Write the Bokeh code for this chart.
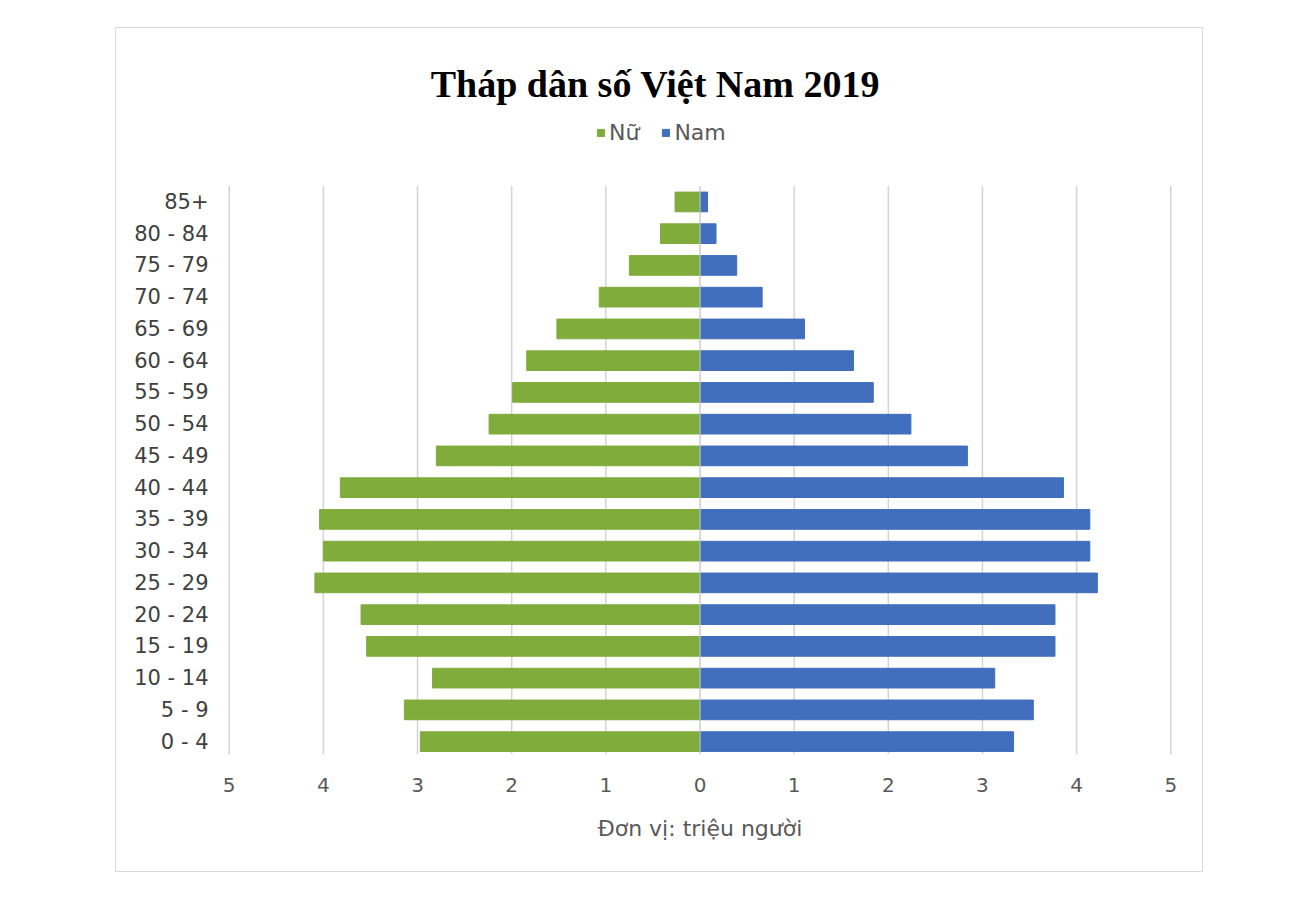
import numpy as np
from bokeh.plotting import figure
from bokeh.models import (ColumnDataSource, Range1d, FixedTicker, CustomJSTickFormatter,
                          Legend, LegendItem, Label, Spacer)
from bokeh.layouts import column, row
from bokeh.embed import file_html
from bokeh.resources import INLINE

# nhóm tuổi, từ dưới lên trên
ages = ["0 - 4", "5 - 9", "10 - 14", "15 - 19", "20 - 24", "25 - 29", "30 - 34",
        "35 - 39", "40 - 44", "45 - 49", "50 - 54", "55 - 59", "60 - 64",
        "65 - 69", "70 - 74", "75 - 79", "80 - 84", "85+"]
# triệu người
nu = [2.97, 3.14, 2.84, 3.54, 3.60, 4.09, 4.00, 4.04, 3.82, 2.80, 2.24, 1.99,
      1.84, 1.52, 1.07, 0.75, 0.42, 0.265]
nam = [3.33, 3.54, 3.13, 3.77, 3.77, 4.22, 4.14, 4.14, 3.86, 2.84, 2.24, 1.84,
       1.63, 1.11, 0.66, 0.39, 0.17, 0.08]
ticks = list(range(-5, 6))

green = "#80AC3C"
blue = "#416EBD"
grid_col = "#D4D4D4"
sans = "DejaVu Sans"

W, H = 1088, 845
ml, mr, mb = 108, 29, 116
frame_h = H - 2 - mb
row_px = 31.66                  # khoảng cách giữa các hàng
y_top = -0.5 + frame_h / row_px  # để chừa chỗ cho tiêu đề, chú giải
xlo, xhi = -5.05, 5.05
px_per_x = (W - 2 - ml - mr) / (xhi - xlo)

idx = list(range(len(ages)))
src = ColumnDataSource(data=dict(y=idx, age=ages, nu_left=[-v for v in nu],
                                 nam=nam, zero=[0] * len(ages)))

p = figure(width=W, height=H, x_range=Range1d(xlo, xhi), y_range=Range1d(-0.5, y_top),
           output_backend="svg", title=None, toolbar_location=None,
           min_border_left=ml, min_border_right=mr, min_border_top=0,
           min_border_bottom=mb)
p.styles = {"border": "1px solid #D9D9D9"}

# lưới dọc
p.segment(x0=ticks, x1=ticks, y0=-0.4, y1=len(ages) - 0.5,
          line_color=grid_col, line_width=1.5)

r_nu = p.hbar(y="y", left="nu_left", right="zero", height=0.62, color=green, source=src)
r_nam = p.hbar(y="y", left="zero", right="nam", height=0.62, color=blue, source=src)
p.segment(x0=[0], x1=[0], y0=-0.4, y1=len(ages) - 0.5, line_color=grid_col, line_width=1)

def px_y(abs_y):
    # vị trí theo pixel của trang (từ trên xuống) -> toạ độ dữ liệu
    return -0.5 + (28 + frame_h - abs_y) / row_px

def px_x(abs_x):
    return xlo + (abs_x - (116 + ml)) / px_per_x

p.add_layout(Label(x=px_x(654), y=px_y(83), text="Tháp dân số Việt Nam 2019",
                   text_font="Liberation Serif", text_font_size="38px",
                   text_font_style="bold", text_color="#000000",
                   text_align="center", text_baseline="middle"))

legend = Legend(items=[LegendItem(label="Nữ", renderers=[r_nu]),
                       LegendItem(label="Nam", renderers=[r_nam])],
                orientation="horizontal", location=(372, 612),
                glyph_width=9, glyph_height=9, label_standoff=4, spacing=22,
                padding=0, margin=0, border_line_color=None,
                background_fill_alpha=0, label_text_font=sans,
                label_text_font_size="22px", label_text_color="#595959")
p.add_layout(legend)

p.outline_line_color = None
p.grid.grid_line_color = None

p.xaxis.ticker = FixedTicker(ticks=ticks)
p.xaxis.formatter = CustomJSTickFormatter(code="return Math.abs(tick).toString()")
p.xaxis.axis_label = "Đơn vị: triệu người"
p.xaxis.axis_label_text_font = sans
p.xaxis.axis_label_text_font_style = "normal"
p.xaxis.axis_label_text_font_size = "22px"
p.xaxis.axis_label_text_color = "#595959"
p.xaxis.axis_label_standoff = 21
p.xaxis.major_label_text_font = sans
p.xaxis.major_label_text_font_size = "20px"
p.xaxis.major_label_text_color = "#595959"
p.xaxis.major_label_standoff = 14

p.yaxis.ticker = FixedTicker(ticks=idx)
p.yaxis.formatter = CustomJSTickFormatter(args=dict(labels=ages),
                                          code="return labels[Math.round(tick)]")
p.yaxis.major_label_text_font = sans
p.yaxis.major_label_text_font_size = "21px"
p.yaxis.major_label_text_color = "#404040"
p.yaxis.major_label_standoff = 10

for ax in (p.xaxis, p.yaxis):
    ax.axis_line_color = None
    ax.major_tick_line_color = None
    ax.minor_tick_line_color = None

layout = column(Spacer(height=27), row(Spacer(width=115), p))

open("out.html", "w").write(file_html(layout, INLINE))
